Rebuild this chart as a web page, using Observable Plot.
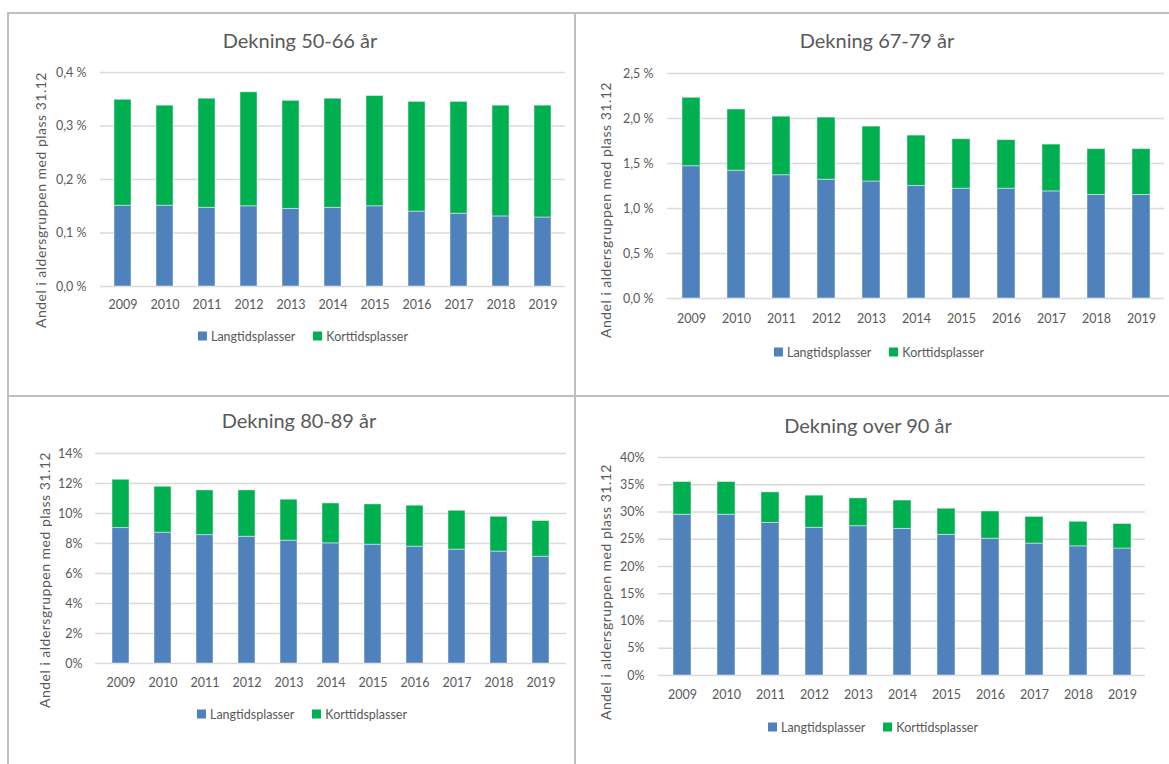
<!DOCTYPE html>
<html><head><meta charset="utf-8">
<script src="https://cdn.jsdelivr.net/npm/d3@7"></script>
<script src="https://cdn.jsdelivr.net/npm/@observablehq/plot@0.6"></script>
<style>
body{margin:0;background:#fff;font-family:Lato,"Open Sans",sans-serif;color:#595959}
#root{position:relative;width:1169px;height:764px;overflow:hidden;background:#fff}
.title{position:absolute;font-size:20px;white-space:nowrap;transform:translate(-50%,-50%);color:#595959}
.ylab{position:absolute;font-size:14px;letter-spacing:0.5px;white-space:nowrap;transform:translate(-50%,-50%) rotate(-90deg);color:#595959}
.legend{position:absolute;display:flex;gap:18px;font-size:12.5px;transform:translate(-50%,-50%);white-space:nowrap;align-items:center;color:#595959}
.sw{display:inline-block;width:9px;height:9px;margin-right:4px}
.line{position:absolute;background:#bfbfbf}
.plot{position:absolute}
</style></head><body><div id="root"></div>
<script>
// ---- data ----
const years = [2009, 2010, 2011, 2012, 2013, 2014, 2015, 2016, 2017, 2018, 2019];
const seriesNames = ["Langtidsplasser", "Korttidsplasser"];
const seriesColors = ["#4F81BD", "#00B050"];
const yLabel = "Andel i aldersgruppen med plass 31.12";

const title5066 = "Dekning 50-66 år";
const lang5066 = [0.151, 0.151, 0.147, 0.150, 0.145, 0.147, 0.150, 0.140, 0.136, 0.131, 0.129];
const kort5066 = [0.198, 0.187, 0.204, 0.213, 0.202, 0.204, 0.206, 0.205, 0.209, 0.207, 0.209];
const ticks5066 = [0, 0.1, 0.2, 0.3, 0.4];

const title6779 = "Dekning 67-79 år";
const lang6779 = [1.47, 1.42, 1.37, 1.32, 1.30, 1.25, 1.22, 1.22, 1.19, 1.15, 1.15];
const kort6779 = [0.76, 0.68, 0.65, 0.69, 0.61, 0.56, 0.55, 0.54, 0.52, 0.51, 0.51];
const ticks6779 = [0, 0.5, 1.0, 1.5, 2.0, 2.5];

const title8089 = "Dekning 80-89 år";
const lang8089 = [9.03, 8.72, 8.56, 8.45, 8.19, 8.01, 7.92, 7.79, 7.59, 7.46, 7.12];
const kort8089 = [3.22, 3.06, 2.98, 3.09, 2.73, 2.66, 2.69, 2.73, 2.59, 2.32, 2.38];
const ticks8089 = [0, 2, 4, 6, 8, 10, 12, 14];

const titleOver90 = "Dekning over 90 år";
const langOver90 = [29.5, 29.5, 28.0, 27.1, 27.4, 26.9, 25.8, 25.1, 24.2, 23.7, 23.3];
const kortOver90 = [6.0, 6.0, 5.6, 5.9, 5.1, 5.2, 4.8, 5.0, 4.9, 4.5, 4.5];
const ticksOver90 = [0, 5, 10, 15, 20, 25, 30, 35, 40];

// ---- layout ----
const root = document.getElementById("root");
function line(l, t, w, h) {
  const d = document.createElement("div");
  d.className = "line";
  Object.assign(d.style, {left: l + "px", top: t + "px", width: w + "px", height: h + "px"});
  root.appendChild(d);
}
line(7, 12, 1162, 2);
line(7, 12, 2, 752);
line(574, 12, 2, 752);
line(7, 395, 1162, 2);

const fmtDec = d => d.toFixed(1).replace(".", ",") + " %";
const fmtInt = d => d + "%";

function panel(cfg) {
  const rows = [];
  years.forEach((y, i) => {
    rows.push({year: y, serie: seriesNames[0], value: cfg.lang[i]});
    rows.push({year: y, serie: seriesNames[1], value: cfg.kort[i]});
  });
  const mL = 70, mT = 10, mB = 34, mR = 6;
  const w = (cfg.x1 - cfg.x0) + mL + mR;
  const h = (cfg.yZero - cfg.yTop) + mT + mB;
  const fs = 12.5;
  const chart = Plot.plot({
    width: w, height: h,
    marginLeft: mL, marginRight: mR, marginTop: mT, marginBottom: mB,
    style: {fontFamily: "Lato, 'Open Sans', sans-serif", fontSize: fs + "px", color: "#595959", background: "transparent", overflow: "visible"},
    x: {type: "band", domain: years, paddingInner: 0.6, paddingOuter: 0.3},
    y: {domain: [0, cfg.ticks[cfg.ticks.length - 1]]},
    color: {domain: seriesNames, range: seriesColors},
    marks: [
      Plot.gridY(cfg.ticks, {stroke: "#d9d9d9", strokeOpacity: 1, strokeWidth: 1.3}),
      Plot.barY(rows, {x: "year", y: "value", fill: "serie", stroke: "#ffffff", strokeOpacity: 0.45, strokeWidth: 1}),
      Plot.axisX({tickSize: 0, tickPadding: cfg.yearY - cfg.yZero - 0.355 * fs, tickFormat: d => `${d}`, label: null, fill: "#595959"}),
      Plot.axisY({ticks: cfg.ticks, tickSize: 0, tickPadding: cfg.x0 - cfg.tickRight, tickFormat: cfg.fmt, label: null, fill: "#595959"})
    ]
  });
  chart.classList.add("plot");
  chart.style.left = (cfg.x0 - mL) + "px";
  chart.style.top = (cfg.yTop - mT) + "px";
  root.appendChild(chart);

  const t = document.createElement("div");
  t.className = "title"; t.textContent = cfg.title;
  t.style.left = cfg.titleX + "px"; t.style.top = cfg.titleY + "px";
  root.appendChild(t);

  const yl = document.createElement("div");
  yl.className = "ylab"; yl.textContent = yLabel;
  yl.style.left = cfg.ylabX + "px"; yl.style.top = cfg.ylabY + "px";
  root.appendChild(yl);

  const lg = document.createElement("div");
  lg.className = "legend";
  lg.style.left = cfg.legX + "px"; lg.style.top = cfg.legY + "px";
  seriesNames.forEach((n, i) => {
    const item = document.createElement("span");
    item.style.display = "inline-flex"; item.style.alignItems = "center";
    const sw = document.createElement("span");
    sw.className = "sw"; sw.style.background = seriesColors[i];
    item.appendChild(sw);
    item.appendChild(document.createTextNode(n));
    lg.appendChild(item);
  });
  root.appendChild(lg);
}

panel({title: title5066, lang: lang5066, kort: kort5066, ticks: ticks5066, fmt: fmtDec,
  x0: 100, x1: 565, yTop: 72, yZero: 286, yearY: 304, tickRight: 86,
  titleX: 300, titleY: 40, ylabX: 40, ylabY: 200, legX: 303, legY: 336});
panel({title: title6779, lang: lang6779, kort: kort6779, ticks: ticks6779, fmt: fmtDec,
  x0: 667, x1: 1164, yTop: 73, yZero: 298, yearY: 318, tickRight: 653,
  titleX: 877, titleY: 40, ylabX: 605, ylabY: 210, legX: 879, legY: 352});
panel({title: title8089, lang: lang8089, kort: kort8089, ticks: ticks8089, fmt: fmtInt,
  x0: 95, x1: 566, yTop: 453, yZero: 663, yearY: 682, tickRight: 82,
  titleX: 299, titleY: 420, ylabX: 44, ylabY: 580, legX: 302, legY: 714});
panel({title: titleOver90, lang: langOver90, kort: kortOver90, ticks: ticksOver90, fmt: fmtInt,
  x0: 658, x1: 1145, yTop: 457, yZero: 675, yearY: 694, tickRight: 644,
  titleX: 868, titleY: 425, ylabX: 605, ylabY: 592, legX: 873, legY: 727});
</script></body></html>
